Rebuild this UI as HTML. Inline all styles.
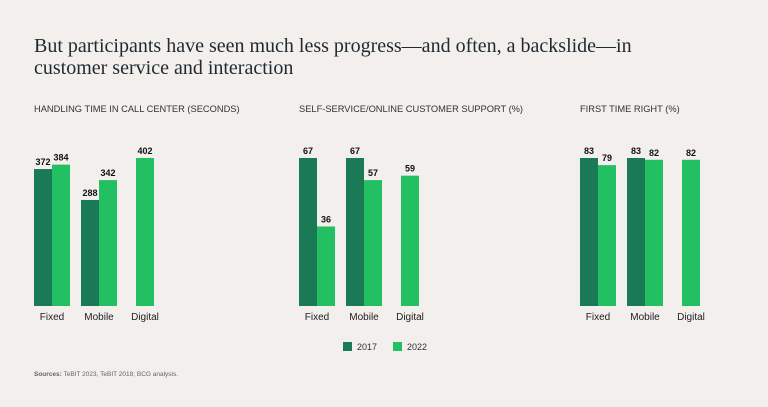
<!DOCTYPE html>
<html><head><meta charset="utf-8"><style>
body{margin:0;background:#f2efec;width:768px;height:402px;overflow:hidden;font-family:"Liberation Sans",sans-serif}
</style></head><body>
<svg width="768" height="402">
<text x="34" y="52" font-family="Liberation Serif,serif" font-size="20" fill="#1f2a30">But participants have seen much less progress—and often, a backslide—in</text>
<text x="34" y="74" font-family="Liberation Serif,serif" font-size="20" fill="#1f2a30">customer service and interaction</text>
<g id="charts"></g>
<rect x="343" y="342" width="9" height="9" fill="#1b7a56"/>
<text x="357" y="350" font-size="9" fill="#333">2017</text>
<rect x="393" y="342" width="9" height="9" fill="#22c063"/>
<text x="407" y="350" font-size="9" fill="#333">2022</text>
<text x="34" y="376" font-size="6.5" fill="#666"><tspan font-weight="bold">Sources:</tspan> TeBIT 2023, TeBIT 2018; BCG analysis.</text>
</svg>
<script>
const categories=["Fixed","Mobile","Digital"];
const panelTitles=["HANDLING TIME IN CALL CENTER (SECONDS)","SELF-SERVICE/ONLINE CUSTOMER SUPPORT (%)","FIRST TIME RIGHT (%)"];
const values2017=[[372,288,null],[67,67,null],[83,83,null]];
const values2022=[[384,342,402],[36,57,59],[79,82,82]];
const NS="http://www.w3.org/2000/svg";
const g=document.getElementById("charts");
const panelX=[34,299,580],base=306,maxH=148,bw=18,groupOff=[0,47,102];
function mk(t,a){const e=document.createElementNS(NS,t);for(const k in a)e.setAttribute(k,a[k]);g.appendChild(e);return e;}
panelTitles.forEach((pt,p)=>{
  const x0=panelX[p];
  const mx=Math.max(...values2017[p].filter(v=>v!=null),...values2022[p]);
  const y=v=>base-v/mx*maxH;
  const t=mk("text",{x:x0,y:112,"font-size":"9.3",fill:"#333"});t.textContent=pt;
  
  
  categories.forEach((c,i)=>{
    const gx=x0+groupOff[i];
    const v1=values2017[p][i],v2=values2022[p][i];
    let cx;
    if(v1!=null){
      const r=mk("rect",{x:gx,y:y(v1),width:bw,height:base-y(v1),fill:"#1b7a56"});
      
      
      const l=mk("text",{x:gx+bw/2,y:y(v1)-4,"font-size":"9","font-weight":"bold","text-anchor":"middle",fill:"#111"});l.textContent=v1;
      
      
      const r2=mk("rect",{x:gx+bw,y:y(v2),width:bw,height:base-y(v2),fill:"#22c063"});
      
      
      const l2=mk("text",{x:gx+bw*1.5,y:y(v2)-4,"font-size":"9","font-weight":"bold","text-anchor":"middle",fill:"#111"});l2.textContent=v2;
      
      
      cx=gx+bw;
    } else {
      const r2=mk("rect",{x:gx,y:y(v2),width:bw,height:base-y(v2),fill:"#22c063"});
      
      
      const l2=mk("text",{x:gx+bw/2,y:y(v2)-4,"font-size":"9","font-weight":"bold","text-anchor":"middle",fill:"#111"});l2.textContent=v2;
      
      
      cx=gx+bw/2;
    }
    const cl=mk("text",{x:cx,y:320,"font-size":"10","text-anchor":"middle",fill:"#222"});cl.textContent=c;
    
    
  });
});
</script>
</body></html>
